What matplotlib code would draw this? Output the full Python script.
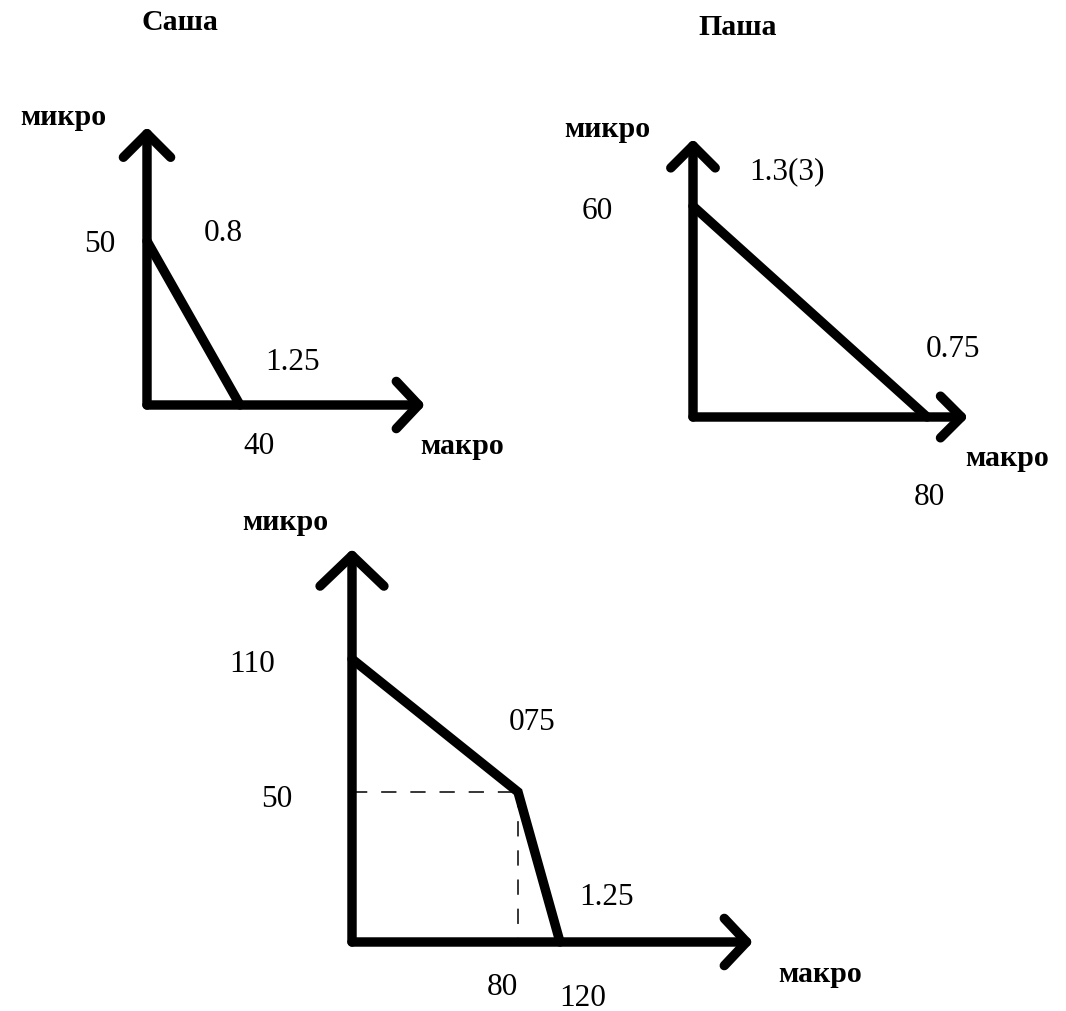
import numpy as np
import matplotlib
matplotlib.use("Agg")
import matplotlib.pyplot as plt

# ---------------- data ----------------
titles = ["Саша", "Паша"]
x_name = "макро"
y_name = "микро"

sasha_macro = [0, 40]
sasha_micro = [50, 0]
sasha_costs = ["0.8", "1.25"]

pasha_macro = [0, 80]
pasha_micro = [60, 0]
pasha_costs = ["1.3(3)", "0.75"]

joint_macro = [0, 80, 120]
joint_micro = [110, 50, 0]
joint_costs = ["075", "1.25"]

# ---------------- style ----------------
W, H, DPI = 1066, 1012, 100
LW = 6.8
FONT = "Liberation Serif"
FS_NUM = 22.5
FS_WORD = 21.5
plt.rcParams["font.family"] = [FONT, "DejaVu Serif"]
plt.rcParams["lines.scale_dashes"] = False

fig = plt.figure(figsize=(W / DPI, H / DPI), dpi=DPI)
fig.patch.set_facecolor("white")


def panel(ox, oy, tipx, tipy):
    """Axes whose lower-left corner is the origin and upper-right the arrow tips (pixels)."""
    ax = fig.add_axes([ox / W, 1 - oy / H, (tipx - ox) / W, (oy - tipy) / H])
    ax.set_axis_off()
    return ax


def arrows(ax, hx, hy):
    for xy, (hl, hw) in (((1, 0), hx), ((0, 1), hy)):
        ax.annotate("", xy=xy, xytext=(0, 0), xycoords="axes fraction",
                    textcoords="axes fraction", annotation_clip=False,
                    arrowprops=dict(arrowstyle=f"->,head_length={hl},head_width={hw}",
                                    lw=LW, color="black", shrinkA=0, shrinkB=0,
                                    mutation_scale=1, capstyle="round",
                                    joinstyle="round"))


def label(ax, text, xy, off):
    ax.annotate(text, xy=xy, xycoords="data", xytext=off, textcoords="offset points",
                ha="center", va="center", fontsize=FS_NUM, annotation_clip=False)


def ftext(ax, x, y, text, bold=False):
    ax.text(x, y, text, transform=ax.transAxes, ha="center", va="center",
            fontsize=FS_WORD if bold else FS_NUM,
            fontweight="bold" if bold else "normal", clip_on=False)


def piecewise(vals, fracs):
    v = np.asarray(vals, float)
    f = np.asarray(fracs, float)
    s0 = (f[1] - f[0]) / (v[1] - v[0])
    s1 = (f[-1] - f[-2]) / (v[-1] - v[-2])
    v = np.concatenate([[v[0] - 1e4], v, [v[-1] + 1e4]])
    f = np.concatenate([[f[0] - 1e4 * s0], f, [f[-1] + 1e4 * s1]])
    return (lambda x: np.interp(x, v, f)), (lambda y: np.interp(y, f, v))


# ---------------- Саша ----------------
ax1 = panel(147, 406, 425, 128)
ax1.set_xlim(0, 119.6)
ax1.set_ylim(0, 84.8)
ax1.plot(sasha_macro, sasha_micro, color="black", lw=LW, clip_on=False,
         solid_capstyle="round")
arrows(ax1, (16, 17), (17, 17))
label(ax1, str(sasha_micro[0]), (0, sasha_micro[0]), (-34, -2))
label(ax1, str(sasha_macro[1]), (sasha_macro[1], 0), (14, -29))
ftext(ax1, 0.273, 0.622, sasha_costs[0])
ftext(ax1, 0.522, 0.155, sasha_costs[1])
ftext(ax1, -0.302, 1.036, y_name, bold=True)
ftext(ax1, 1.133, -0.147, x_name, bold=True)
ftext(ax1, 0.119, 1.378, titles[0], bold=True)

# ---------------- Паша ----------------
ax2 = panel(693, 418, 968, 140)
ax2.set_xlim(0, 94.0)
ax2.set_ylim(0, 79.1)
ax2.plot(pasha_macro, pasha_micro, color="black", lw=LW, clip_on=False,
         solid_capstyle="round")
arrows(ax2, (15, 15), (16, 16))
label(ax2, str(pasha_micro[0]), (0, pasha_micro[0]), (-69, -3))
label(ax2, str(pasha_macro[1]), (pasha_macro[1], 0), (2, -57))
ftext(ax2, 0.342, 0.885, pasha_costs[0])
ftext(ax2, 0.945, 0.245, pasha_costs[1])
ftext(ax2, -0.313, 1.036, y_name, bold=True)
ftext(ax2, 1.142, -0.144, x_name, bold=True)
ftext(ax2, 0.164, 1.403, titles[1], bold=True)

# ---------------- joint PPF ----------------
ax3 = panel(352, 943, 753, 550)
fx = piecewise([0, 80, 120, 200], [0, 166 / 401, 208 / 401, 1])
fy = piecewise([0, 50, 110, 150], [0, 150 / 393, 283 / 393, 1])
ax3.set_xscale("function", functions=fx)
ax3.set_yscale("function", functions=fy)
ax3.set_xlim(0, 200)
ax3.set_ylim(0, 150)
kx, ky = joint_macro[1], joint_micro[1]
ax3.plot([0, kx], [ky, ky], color="black", lw=1.1, dashes=(11, 10), clip_on=False)
ax3.plot([kx, kx], [ky, 0], color="black", lw=1.1, dashes=(11, 10), clip_on=False)
ax3.plot(joint_macro, joint_micro, color="black", lw=LW, clip_on=False,
         solid_capstyle="round", solid_joinstyle="miter")
arrows(ax3, (16, 17), (22, 23))
label(ax3, str(joint_micro[0]), (0, joint_micro[0]), (-72, -3))
label(ax3, str(joint_micro[1]), (0, joint_micro[1]), (-54, -5))
label(ax3, str(joint_macro[1]), (joint_macro[1], 0), (-11, -32))
label(ax3, str(joint_macro[2]), (joint_macro[2], 0), (16, -40))
ftext(ax3, 0.449, 0.560, joint_costs[0])
ftext(ax3, 0.636, 0.117, joint_costs[1])
ftext(ax3, -0.167, 1.071, y_name, bold=True)
ftext(ax3, 1.167, -0.081, x_name, bold=True)

fig.savefig("out.png", dpi=DPI, facecolor="white")
